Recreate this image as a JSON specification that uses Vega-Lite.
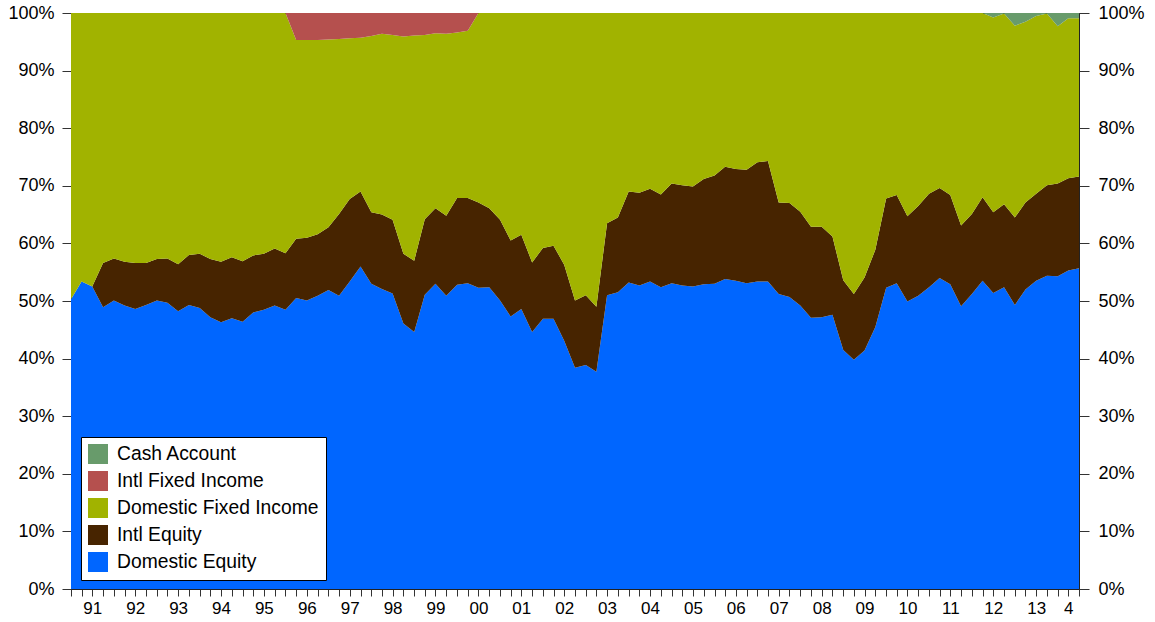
{
  "$schema": "https://vega.github.io/schema/vega-lite/v6.json",
  "autosize": "none",
  "width": 1008,
  "height": 576,
  "padding": {"left": 71, "top": 13, "right": 76, "bottom": 33},
  "background": "white",
  "config": {
    "view": {"stroke": "#222", "strokeWidth": 1},
    "font": "Liberation Sans",
    "axis": {"labelFont": "Liberation Sans", "labelColor": "#000", "domainColor": "#222", "tickColor": "#333", "grid": false, "title": null}
  },
  "data": {"values": [
    {"d":"1991-01-01","Domestic Equity":50.3,"Intl Equity":0,"Domestic Fixed Income":49.7,"Intl Fixed Income":0,"Cash Account":0},
    {"d":"1991-04-01","Domestic Equity":53.4,"Intl Equity":0,"Domestic Fixed Income":46.6,"Intl Fixed Income":0,"Cash Account":0},
    {"d":"1991-07-01","Domestic Equity":52.5,"Intl Equity":0,"Domestic Fixed Income":47.5,"Intl Fixed Income":0,"Cash Account":0},
    {"d":"1991-10-01","Domestic Equity":48.9,"Intl Equity":7.7,"Domestic Fixed Income":43.4,"Intl Fixed Income":0,"Cash Account":0},
    {"d":"1992-01-01","Domestic Equity":50.1,"Intl Equity":7.3,"Domestic Fixed Income":42.6,"Intl Fixed Income":0,"Cash Account":0},
    {"d":"1992-04-01","Domestic Equity":49.2,"Intl Equity":7.6,"Domestic Fixed Income":43.2,"Intl Fixed Income":0,"Cash Account":0},
    {"d":"1992-07-01","Domestic Equity":48.6,"Intl Equity":8.0,"Domestic Fixed Income":43.4,"Intl Fixed Income":0,"Cash Account":0},
    {"d":"1992-10-01","Domestic Equity":49.3,"Intl Equity":7.3,"Domestic Fixed Income":43.4,"Intl Fixed Income":0,"Cash Account":0},
    {"d":"1993-01-01","Domestic Equity":50.1,"Intl Equity":7.2,"Domestic Fixed Income":42.7,"Intl Fixed Income":0,"Cash Account":0},
    {"d":"1993-04-01","Domestic Equity":49.7,"Intl Equity":7.7,"Domestic Fixed Income":42.6,"Intl Fixed Income":0,"Cash Account":0},
    {"d":"1993-07-01","Domestic Equity":48.2,"Intl Equity":8.2,"Domestic Fixed Income":43.6,"Intl Fixed Income":0,"Cash Account":0},
    {"d":"1993-10-01","Domestic Equity":49.3,"Intl Equity":8.7,"Domestic Fixed Income":42.0,"Intl Fixed Income":0,"Cash Account":0},
    {"d":"1994-01-01","Domestic Equity":48.8,"Intl Equity":9.4,"Domestic Fixed Income":41.8,"Intl Fixed Income":0,"Cash Account":0},
    {"d":"1994-04-01","Domestic Equity":47.2,"Intl Equity":10.1,"Domestic Fixed Income":42.7,"Intl Fixed Income":0,"Cash Account":0},
    {"d":"1994-07-01","Domestic Equity":46.3,"Intl Equity":10.5,"Domestic Fixed Income":43.2,"Intl Fixed Income":0,"Cash Account":0},
    {"d":"1994-10-01","Domestic Equity":47.0,"Intl Equity":10.6,"Domestic Fixed Income":42.4,"Intl Fixed Income":0,"Cash Account":0},
    {"d":"1995-01-01","Domestic Equity":46.4,"Intl Equity":10.5,"Domestic Fixed Income":43.1,"Intl Fixed Income":0,"Cash Account":0},
    {"d":"1995-04-01","Domestic Equity":48.0,"Intl Equity":9.9,"Domestic Fixed Income":42.1,"Intl Fixed Income":0,"Cash Account":0},
    {"d":"1995-07-01","Domestic Equity":48.5,"Intl Equity":9.7,"Domestic Fixed Income":41.8,"Intl Fixed Income":0,"Cash Account":0},
    {"d":"1995-10-01","Domestic Equity":49.2,"Intl Equity":9.9,"Domestic Fixed Income":40.9,"Intl Fixed Income":0,"Cash Account":0},
    {"d":"1996-01-01","Domestic Equity":48.5,"Intl Equity":9.8,"Domestic Fixed Income":41.7,"Intl Fixed Income":0,"Cash Account":0},
    {"d":"1996-04-01","Domestic Equity":50.5,"Intl Equity":10.3,"Domestic Fixed Income":34.5,"Intl Fixed Income":4.7,"Cash Account":0},
    {"d":"1996-07-01","Domestic Equity":50.1,"Intl Equity":10.9,"Domestic Fixed Income":34.3,"Intl Fixed Income":4.7,"Cash Account":0},
    {"d":"1996-10-01","Domestic Equity":50.9,"Intl Equity":10.7,"Domestic Fixed Income":33.7,"Intl Fixed Income":4.7,"Cash Account":0},
    {"d":"1997-01-01","Domestic Equity":51.9,"Intl Equity":10.9,"Domestic Fixed Income":32.6,"Intl Fixed Income":4.6,"Cash Account":0},
    {"d":"1997-04-01","Domestic Equity":50.9,"Intl Equity":14.2,"Domestic Fixed Income":30.4,"Intl Fixed Income":4.5,"Cash Account":0},
    {"d":"1997-07-01","Domestic Equity":53.4,"Intl Equity":14.3,"Domestic Fixed Income":27.9,"Intl Fixed Income":4.4,"Cash Account":0},
    {"d":"1997-10-01","Domestic Equity":56.0,"Intl Equity":13.0,"Domestic Fixed Income":26.7,"Intl Fixed Income":4.3,"Cash Account":0},
    {"d":"1998-01-01","Domestic Equity":53.0,"Intl Equity":12.4,"Domestic Fixed Income":30.6,"Intl Fixed Income":4.0,"Cash Account":0},
    {"d":"1998-04-01","Domestic Equity":52.1,"Intl Equity":12.9,"Domestic Fixed Income":31.4,"Intl Fixed Income":3.6,"Cash Account":0},
    {"d":"1998-07-01","Domestic Equity":51.3,"Intl Equity":12.8,"Domestic Fixed Income":32.1,"Intl Fixed Income":3.8,"Cash Account":0},
    {"d":"1998-10-01","Domestic Equity":46.1,"Intl Equity":12.1,"Domestic Fixed Income":37.7,"Intl Fixed Income":4.1,"Cash Account":0},
    {"d":"1999-01-01","Domestic Equity":44.6,"Intl Equity":12.4,"Domestic Fixed Income":39.1,"Intl Fixed Income":3.9,"Cash Account":0},
    {"d":"1999-04-01","Domestic Equity":51.1,"Intl Equity":13.1,"Domestic Fixed Income":32.0,"Intl Fixed Income":3.8,"Cash Account":0},
    {"d":"1999-07-01","Domestic Equity":53.0,"Intl Equity":13.1,"Domestic Fixed Income":30.4,"Intl Fixed Income":3.5,"Cash Account":0},
    {"d":"1999-10-01","Domestic Equity":50.9,"Intl Equity":13.9,"Domestic Fixed Income":31.6,"Intl Fixed Income":3.6,"Cash Account":0},
    {"d":"2000-01-01","Domestic Equity":52.8,"Intl Equity":15.1,"Domestic Fixed Income":28.7,"Intl Fixed Income":3.4,"Cash Account":0},
    {"d":"2000-04-01","Domestic Equity":53.1,"Intl Equity":14.8,"Domestic Fixed Income":29.0,"Intl Fixed Income":3.1,"Cash Account":0},
    {"d":"2000-07-01","Domestic Equity":52.3,"Intl Equity":14.8,"Domestic Fixed Income":32.9,"Intl Fixed Income":0,"Cash Account":0},
    {"d":"2000-10-01","Domestic Equity":52.4,"Intl Equity":13.7,"Domestic Fixed Income":33.9,"Intl Fixed Income":0,"Cash Account":0},
    {"d":"2001-01-01","Domestic Equity":50.1,"Intl Equity":14.0,"Domestic Fixed Income":35.9,"Intl Fixed Income":0,"Cash Account":0},
    {"d":"2001-04-01","Domestic Equity":47.3,"Intl Equity":13.2,"Domestic Fixed Income":39.5,"Intl Fixed Income":0,"Cash Account":0},
    {"d":"2001-07-01","Domestic Equity":48.6,"Intl Equity":12.9,"Domestic Fixed Income":38.5,"Intl Fixed Income":0,"Cash Account":0},
    {"d":"2001-10-01","Domestic Equity":44.6,"Intl Equity":12.1,"Domestic Fixed Income":43.3,"Intl Fixed Income":0,"Cash Account":0},
    {"d":"2002-01-01","Domestic Equity":46.9,"Intl Equity":12.3,"Domestic Fixed Income":40.8,"Intl Fixed Income":0,"Cash Account":0},
    {"d":"2002-04-01","Domestic Equity":46.9,"Intl Equity":12.7,"Domestic Fixed Income":40.4,"Intl Fixed Income":0,"Cash Account":0},
    {"d":"2002-07-01","Domestic Equity":43.1,"Intl Equity":13.2,"Domestic Fixed Income":43.7,"Intl Fixed Income":0,"Cash Account":0},
    {"d":"2002-10-01","Domestic Equity":38.4,"Intl Equity":11.7,"Domestic Fixed Income":49.9,"Intl Fixed Income":0,"Cash Account":0},
    {"d":"2003-01-01","Domestic Equity":38.9,"Intl Equity":12.1,"Domestic Fixed Income":49.0,"Intl Fixed Income":0,"Cash Account":0},
    {"d":"2003-04-01","Domestic Equity":37.7,"Intl Equity":11.3,"Domestic Fixed Income":51.0,"Intl Fixed Income":0,"Cash Account":0},
    {"d":"2003-07-01","Domestic Equity":51.0,"Intl Equity":12.5,"Domestic Fixed Income":36.5,"Intl Fixed Income":0,"Cash Account":0},
    {"d":"2003-10-01","Domestic Equity":51.5,"Intl Equity":13.0,"Domestic Fixed Income":35.5,"Intl Fixed Income":0,"Cash Account":0},
    {"d":"2004-01-01","Domestic Equity":53.2,"Intl Equity":15.8,"Domestic Fixed Income":31.0,"Intl Fixed Income":0,"Cash Account":0},
    {"d":"2004-04-01","Domestic Equity":52.7,"Intl Equity":16.1,"Domestic Fixed Income":31.2,"Intl Fixed Income":0,"Cash Account":0},
    {"d":"2004-07-01","Domestic Equity":53.4,"Intl Equity":16.1,"Domestic Fixed Income":30.5,"Intl Fixed Income":0,"Cash Account":0},
    {"d":"2004-10-01","Domestic Equity":52.4,"Intl Equity":16.1,"Domestic Fixed Income":31.5,"Intl Fixed Income":0,"Cash Account":0},
    {"d":"2005-01-01","Domestic Equity":53.1,"Intl Equity":17.3,"Domestic Fixed Income":29.6,"Intl Fixed Income":0,"Cash Account":0},
    {"d":"2005-04-01","Domestic Equity":52.7,"Intl Equity":17.4,"Domestic Fixed Income":29.9,"Intl Fixed Income":0,"Cash Account":0},
    {"d":"2005-07-01","Domestic Equity":52.5,"Intl Equity":17.4,"Domestic Fixed Income":30.1,"Intl Fixed Income":0,"Cash Account":0},
    {"d":"2005-10-01","Domestic Equity":52.9,"Intl Equity":18.3,"Domestic Fixed Income":28.8,"Intl Fixed Income":0,"Cash Account":0},
    {"d":"2006-01-01","Domestic Equity":53.0,"Intl Equity":18.8,"Domestic Fixed Income":28.2,"Intl Fixed Income":0,"Cash Account":0},
    {"d":"2006-04-01","Domestic Equity":53.8,"Intl Equity":19.5,"Domestic Fixed Income":26.7,"Intl Fixed Income":0,"Cash Account":0},
    {"d":"2006-07-01","Domestic Equity":53.5,"Intl Equity":19.4,"Domestic Fixed Income":27.1,"Intl Fixed Income":0,"Cash Account":0},
    {"d":"2006-10-01","Domestic Equity":53.1,"Intl Equity":19.7,"Domestic Fixed Income":27.2,"Intl Fixed Income":0,"Cash Account":0},
    {"d":"2007-01-01","Domestic Equity":53.4,"Intl Equity":20.7,"Domestic Fixed Income":25.9,"Intl Fixed Income":0,"Cash Account":0},
    {"d":"2007-04-01","Domestic Equity":53.4,"Intl Equity":20.9,"Domestic Fixed Income":25.7,"Intl Fixed Income":0,"Cash Account":0},
    {"d":"2007-07-01","Domestic Equity":51.2,"Intl Equity":15.9,"Domestic Fixed Income":32.9,"Intl Fixed Income":0,"Cash Account":0},
    {"d":"2007-10-01","Domestic Equity":50.7,"Intl Equity":16.3,"Domestic Fixed Income":33.0,"Intl Fixed Income":0,"Cash Account":0},
    {"d":"2008-01-01","Domestic Equity":49.2,"Intl Equity":16.3,"Domestic Fixed Income":34.5,"Intl Fixed Income":0,"Cash Account":0},
    {"d":"2008-04-01","Domestic Equity":47.1,"Intl Equity":15.8,"Domestic Fixed Income":37.1,"Intl Fixed Income":0,"Cash Account":0},
    {"d":"2008-07-01","Domestic Equity":47.2,"Intl Equity":15.7,"Domestic Fixed Income":37.1,"Intl Fixed Income":0,"Cash Account":0},
    {"d":"2008-10-01","Domestic Equity":47.6,"Intl Equity":13.6,"Domestic Fixed Income":38.8,"Intl Fixed Income":0,"Cash Account":0},
    {"d":"2009-01-01","Domestic Equity":41.5,"Intl Equity":12.1,"Domestic Fixed Income":46.4,"Intl Fixed Income":0,"Cash Account":0},
    {"d":"2009-04-01","Domestic Equity":39.8,"Intl Equity":11.4,"Domestic Fixed Income":48.8,"Intl Fixed Income":0,"Cash Account":0},
    {"d":"2009-07-01","Domestic Equity":41.4,"Intl Equity":12.7,"Domestic Fixed Income":45.9,"Intl Fixed Income":0,"Cash Account":0},
    {"d":"2009-10-01","Domestic Equity":45.5,"Intl Equity":13.4,"Domestic Fixed Income":41.1,"Intl Fixed Income":0,"Cash Account":0},
    {"d":"2010-01-01","Domestic Equity":52.3,"Intl Equity":15.5,"Domestic Fixed Income":32.2,"Intl Fixed Income":0,"Cash Account":0},
    {"d":"2010-04-01","Domestic Equity":53.1,"Intl Equity":15.3,"Domestic Fixed Income":31.6,"Intl Fixed Income":0,"Cash Account":0},
    {"d":"2010-07-01","Domestic Equity":49.9,"Intl Equity":14.8,"Domestic Fixed Income":35.3,"Intl Fixed Income":0,"Cash Account":0},
    {"d":"2010-10-01","Domestic Equity":50.9,"Intl Equity":15.6,"Domestic Fixed Income":33.5,"Intl Fixed Income":0,"Cash Account":0},
    {"d":"2011-01-01","Domestic Equity":52.4,"Intl Equity":16.2,"Domestic Fixed Income":31.4,"Intl Fixed Income":0,"Cash Account":0},
    {"d":"2011-04-01","Domestic Equity":54.0,"Intl Equity":15.6,"Domestic Fixed Income":30.4,"Intl Fixed Income":0,"Cash Account":0},
    {"d":"2011-07-01","Domestic Equity":52.9,"Intl Equity":15.5,"Domestic Fixed Income":31.6,"Intl Fixed Income":0,"Cash Account":0},
    {"d":"2011-10-01","Domestic Equity":49.1,"Intl Equity":14.0,"Domestic Fixed Income":36.9,"Intl Fixed Income":0,"Cash Account":0},
    {"d":"2012-01-01","Domestic Equity":51.2,"Intl Equity":13.9,"Domestic Fixed Income":34.9,"Intl Fixed Income":0,"Cash Account":0},
    {"d":"2012-04-01","Domestic Equity":53.5,"Intl Equity":14.5,"Domestic Fixed Income":32.0,"Intl Fixed Income":0,"Cash Account":0},
    {"d":"2012-07-01","Domestic Equity":51.4,"Intl Equity":14.0,"Domestic Fixed Income":33.8,"Intl Fixed Income":0,"Cash Account":0.8},
    {"d":"2012-10-01","Domestic Equity":52.4,"Intl Equity":14.4,"Domestic Fixed Income":33.1,"Intl Fixed Income":0,"Cash Account":0.1},
    {"d":"2013-01-01","Domestic Equity":49.3,"Intl Equity":15.2,"Domestic Fixed Income":33.3,"Intl Fixed Income":0,"Cash Account":2.2},
    {"d":"2013-04-01","Domestic Equity":52.0,"Intl Equity":15.1,"Domestic Fixed Income":31.4,"Intl Fixed Income":0,"Cash Account":1.5},
    {"d":"2013-07-01","Domestic Equity":53.5,"Intl Equity":15.1,"Domestic Fixed Income":30.9,"Intl Fixed Income":0,"Cash Account":0.5},
    {"d":"2013-10-01","Domestic Equity":54.4,"Intl Equity":15.7,"Domestic Fixed Income":29.8,"Intl Fixed Income":0,"Cash Account":0.1},
    {"d":"2014-01-01","Domestic Equity":54.3,"Intl Equity":16.1,"Domestic Fixed Income":27.3,"Intl Fixed Income":0,"Cash Account":2.3},
    {"d":"2014-04-01","Domestic Equity":55.3,"Intl Equity":16.0,"Domestic Fixed Income":27.8,"Intl Fixed Income":0,"Cash Account":0.9},
    {"d":"2014-07-01","Domestic Equity":55.7,"Intl Equity":15.9,"Domestic Fixed Income":27.5,"Intl Fixed Income":0,"Cash Account":0.9}
  ]},
  "layer": [
    {
      "transform": [
        {"fold": ["Domestic Equity", "Intl Equity", "Domestic Fixed Income", "Intl Fixed Income", "Cash Account"], "as": ["asset", "pct"]},
        {"calculate": "indexof(['Domestic Equity', 'Intl Equity', 'Domestic Fixed Income', 'Intl Fixed Income', 'Cash Account'], datum.asset)", "as": "stackRank"}
      ],
      "mark": {"type": "area", "opacity": 1, "interpolate": "linear", "clip": true},
      "encoding": {
        "x": {
          "field": "d", "type": "temporal",
          "scale": {"type": "utc", "nice": false},
          "axis": {
            "orient": "bottom",
            "tickCount": {"interval": "month", "step": 3},
            "tickSize": 7,
            "labelPadding": 4,
            "labelFontSize": 17,
            "labelOverlap": false,
            "labelFlush": false,
            "labelBound": false,
            "labelExpr": "utcmonth(datum.value) == 6 && utcyear(datum.value) < 2014 ? utcFormat(datum.value, '%y') : (utcyear(datum.value) == 2014 && utcmonth(datum.value) == 3 ? '4' : '')"
          }
        },
        "y": {
          "field": "pct", "type": "quantitative", "stack": "zero",
          "scale": {"domain": [0, 100], "nice": false},
          "axis": {
            "orient": "left",
            "values": [0, 10, 20, 30, 40, 50, 60, 70, 80, 90, 100],
            "tickSize": 9,
            "labelPadding": 8,
            "labelFontSize": 18,
            "labelExpr": "datum.value + '%'"
          }
        },
        "order": {"field": "stackRank", "type": "quantitative", "sort": "ascending"},
        "color": {
          "field": "asset", "type": "nominal",
          "sort": ["Cash Account", "Intl Fixed Income", "Domestic Fixed Income", "Intl Equity", "Domestic Equity"],
          "scale": {
            "domain": ["Cash Account", "Intl Fixed Income", "Domestic Fixed Income", "Intl Equity", "Domestic Equity"],
            "range": ["#689b6b", "#b5504e", "#a1b300", "#472400", "#0066ff"]
          },
          "legend": {
            "title": null,
            "orient": "none",
            "legendX": 10,
            "legendY": 424,
            "fillColor": "white",
            "strokeColor": "#000",
            "padding": 7,
            "cornerRadius": 0,
            "symbolType": "square",
            "symbolSize": 400,
            "symbolStrokeWidth": 0,
            "symbolOpacity": 1,
            "labelFont": "Liberation Sans",
            "labelFontSize": 19.3,
            "labelColor": "#000",
            "labelOffset": 9,
            "rowPadding": 6,
            "labelLimit": 400
          }
        }
      }
    },
    {
      "mark": {"type": "rule", "opacity": 0},
      "encoding": {
        "y": {
          "datum": 0, "type": "quantitative",
          "scale": {"domain": [0, 100], "nice": false},
          "axis": {
            "orient": "right",
            "values": [0, 10, 20, 30, 40, 50, 60, 70, 80, 90, 100],
            "tickSize": 10,
            "labelPadding": 9,
            "labelFontSize": 18,
            "labelExpr": "datum.value + '%'"
          }
        }
      }
    }
  ],
  "resolve": {"scale": {"y": "shared"}, "axis": {"y": "independent"}}
}
